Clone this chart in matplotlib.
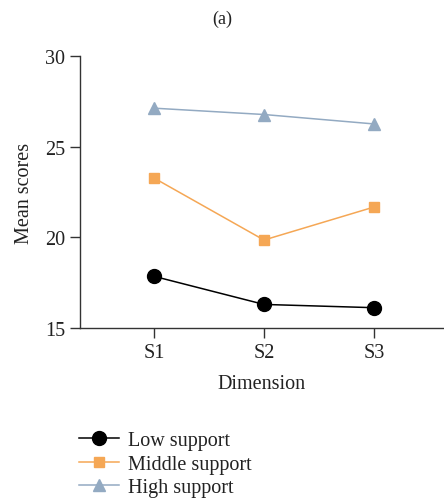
import matplotlib
matplotlib.use("Agg")
import matplotlib.pyplot as plt

# data
dimensions = ["S1", "S2", "S3"]
low_support = [17.85, 16.3, 16.12]
middle_support = [23.27, 19.85, 21.67]
high_support = [27.12, 26.77, 26.25]

plt.rcParams['font.family'] = ['Liberation Serif', 'DejaVu Serif']

fig = plt.figure(figsize=(4.44, 5.02), dpi=100)
ax = fig.add_axes([0.180, 0.3446, 0.82, 0.542])

x = list(range(1, len(dimensions) + 1))
ax.plot(x, low_support, color="black", lw=1.1, marker="o", ms=10,
        label="Low support")
ax.plot(x, middle_support, color="#F5A755", lw=1.1, marker="s", ms=7.5,
        label="Middle support")
ax.plot(x, high_support, color="#93AAC2", lw=1.1, marker="^", ms=9,
        label="High support")

ax.set_xlim(0.327, 3.636)
ax.set_ylim(15, 30)
ax.set_yticks([15, 20, 25, 30])
ax.set_xticks(x)
ax.set_xticklabels(dimensions)
ax.spines['top'].set_visible(False)
ax.spines['right'].set_visible(False)
for s in ['left', 'bottom']:
    ax.spines[s].set_color('#333333')
    ax.spines[s].set_linewidth(1.0)
ax.tick_params(direction='out', length=7, width=1.0, colors='#333333',
               labelsize=14.5, labelcolor='#222222')
ax.set_xlabel("Dimension", fontsize=14.5, color='#222222', labelpad=9)
ax.set_ylabel("Mean scores", fontsize=14.5, color='#222222', labelpad=8)

fig.text(0.5, 0.978, "(a)", ha='center', va='top', fontsize=13, color='#222222')

leg = fig.legend(loc='upper left', bbox_to_anchor=(0.16, 0.155),
                 frameon=False, fontsize=14.5, handlelength=2.0,
                 labelspacing=0.22, handletextpad=0.45, borderaxespad=0)
for t in leg.get_texts():
    t.set_color('#222222')

fig.savefig("out.png", dpi=100)
